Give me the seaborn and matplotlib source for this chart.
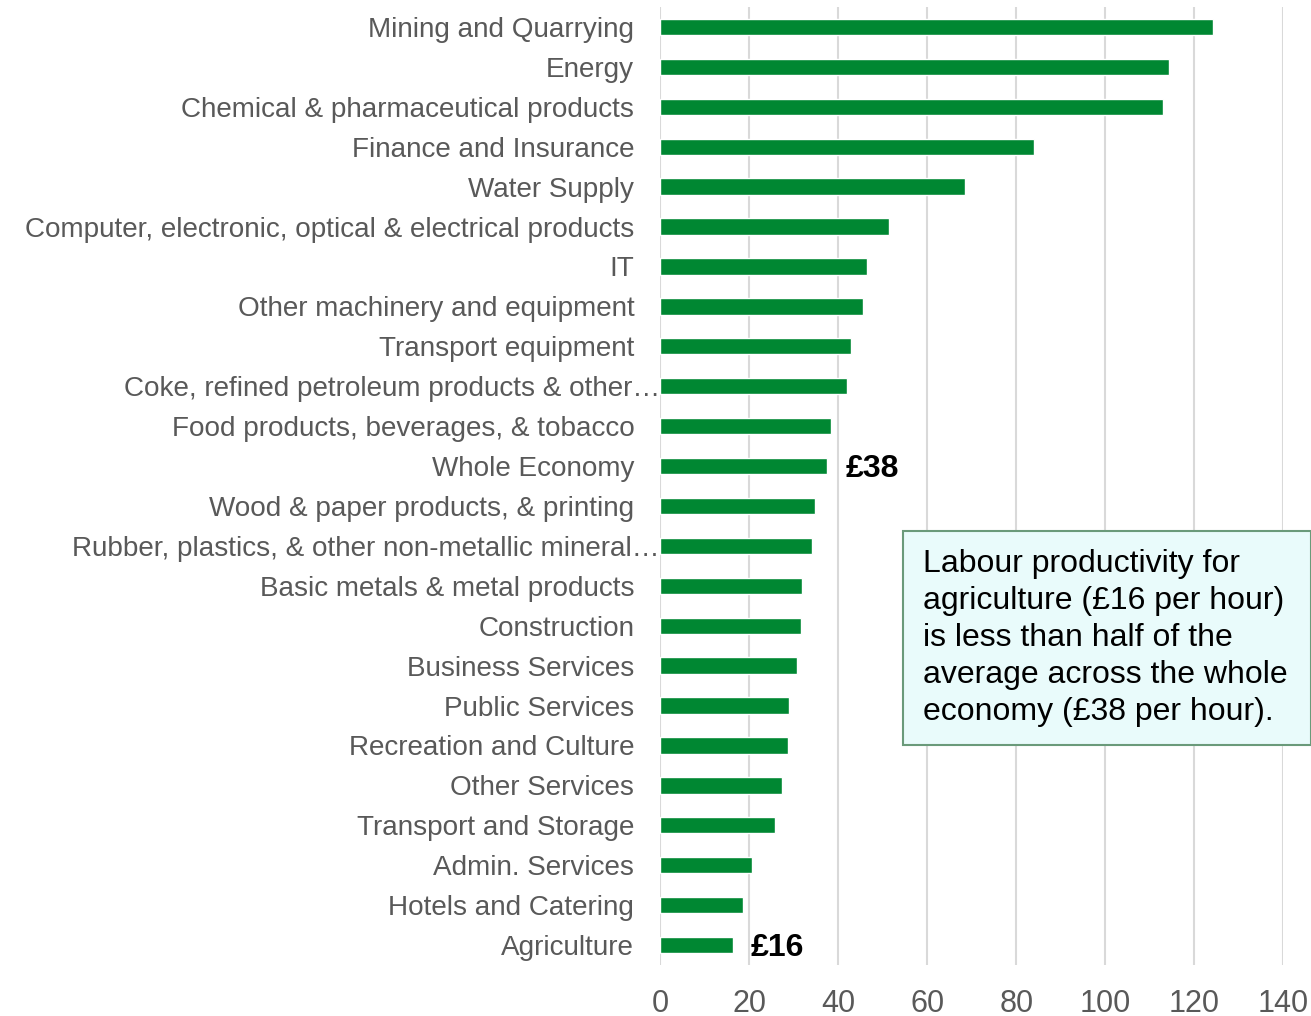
import matplotlib
matplotlib.use("Agg")
import matplotlib.pyplot as plt
import matplotlib.transforms as mtransforms
from matplotlib.patches import Rectangle
import pandas as pd
import seaborn as sns

# labour productivity, £ per hour
sectors = [
    "Mining and Quarrying", "Energy", "Chemical & pharmaceutical products",
    "Finance and Insurance", "Water Supply",
    "Computer, electronic, optical & electrical products", "IT",
    "Other machinery and equipment", "Transport equipment",
    "Coke, refined petroleum products & other…",
    "Food products, beverages, & tobacco", "Whole Economy",
    "Wood & paper products, & printing",
    "Rubber, plastics, & other non-metallic mineral…",
    "Basic metals & metal products", "Construction", "Business Services",
    "Public Services", "Recreation and Culture", "Other Services",
    "Transport and Storage", "Admin. Services", "Hotels and Catering",
    "Agriculture",
]
productivity = [124.2, 114.3, 113.0, 84.0, 68.6, 51.5, 46.6, 45.5, 43.0, 42.1,
                38.3, 37.6, 34.9, 34.2, 32.0, 31.7, 30.8, 29.0, 28.8, 27.5,
                25.9, 20.7, 18.7, 16.4]
truncated = ["Coke, refined petroleum products & other…",
             "Rubber, plastics, & other non-metallic mineral…"]
callouts = {"Whole Economy": "£38", "Agriculture": "£16"}
x_ticks = [0, 20, 40, 60, 80, 100, 120, 140]
note = ("Labour productivity for\nagriculture (£16 per hour)\nis less than half of the\n"
        "average across the whole\neconomy (£38 per hour).")

df = pd.DataFrame({"sector": sectors, "value": productivity})

sns.set_theme(style="white")
plt.rcParams["font.family"] = ["Liberation Sans", "DejaVu Sans"]

fig = plt.figure(figsize=(13.11, 10.16), dpi=100)
ax = fig.add_axes([0.5034, 0.0502, 0.4756, 0.9429])

green = "#008732"
sns.barplot(data=df, x="value", y="sector", orient="h", color=green,
            saturation=1, width=0.41, ax=ax)

ax.set_xlim(0, 140)
ax.set_xticks(x_ticks)
ax.set_xlabel("")
ax.set_ylabel("")
ax.grid(axis="x", color="#d9d9d9", linewidth=1.5)
ax.set_axisbelow(True)
for s in ax.spines.values():
    s.set_visible(False)

ax.tick_params(axis="y", length=0, pad=18.5, labelsize=20.1, labelcolor="#595959")
ax.tick_params(axis="x", length=0, pad=17, labelsize=22, labelcolor="#595959")

# truncated labels run up to the axis line
for lab in ax.get_yticklabels():
    if lab.get_text() in truncated:
        off = mtransforms.ScaledTranslation(18.5 / 72, 0, fig.dpi_scale_trans)
        lab.set_transform(lab.get_transform() + off)

# bold value callouts
for i, name in enumerate(sectors):
    if name in callouts:
        ax.annotate(callouts[name], xy=(productivity[i], i), xytext=(13, -2),
                    textcoords="offset points", ha="left", va="center",
                    fontsize=23, fontweight="bold", color="black")

# note box
fig.patches.append(Rectangle((903 / 1311, 1 - 745 / 1016), 408 / 1311, 214 / 1016,
                             transform=fig.transFigure, facecolor="#e9fbfb",
                             edgecolor="#6a9a7a", linewidth=1.5, zorder=5))
fig.text(923 / 1311, 1 - 638 / 1016, note, ha="left", va="center",
         fontsize=23, color="black", linespacing=1.3, zorder=6)

fig.savefig("out.png", dpi=100)
